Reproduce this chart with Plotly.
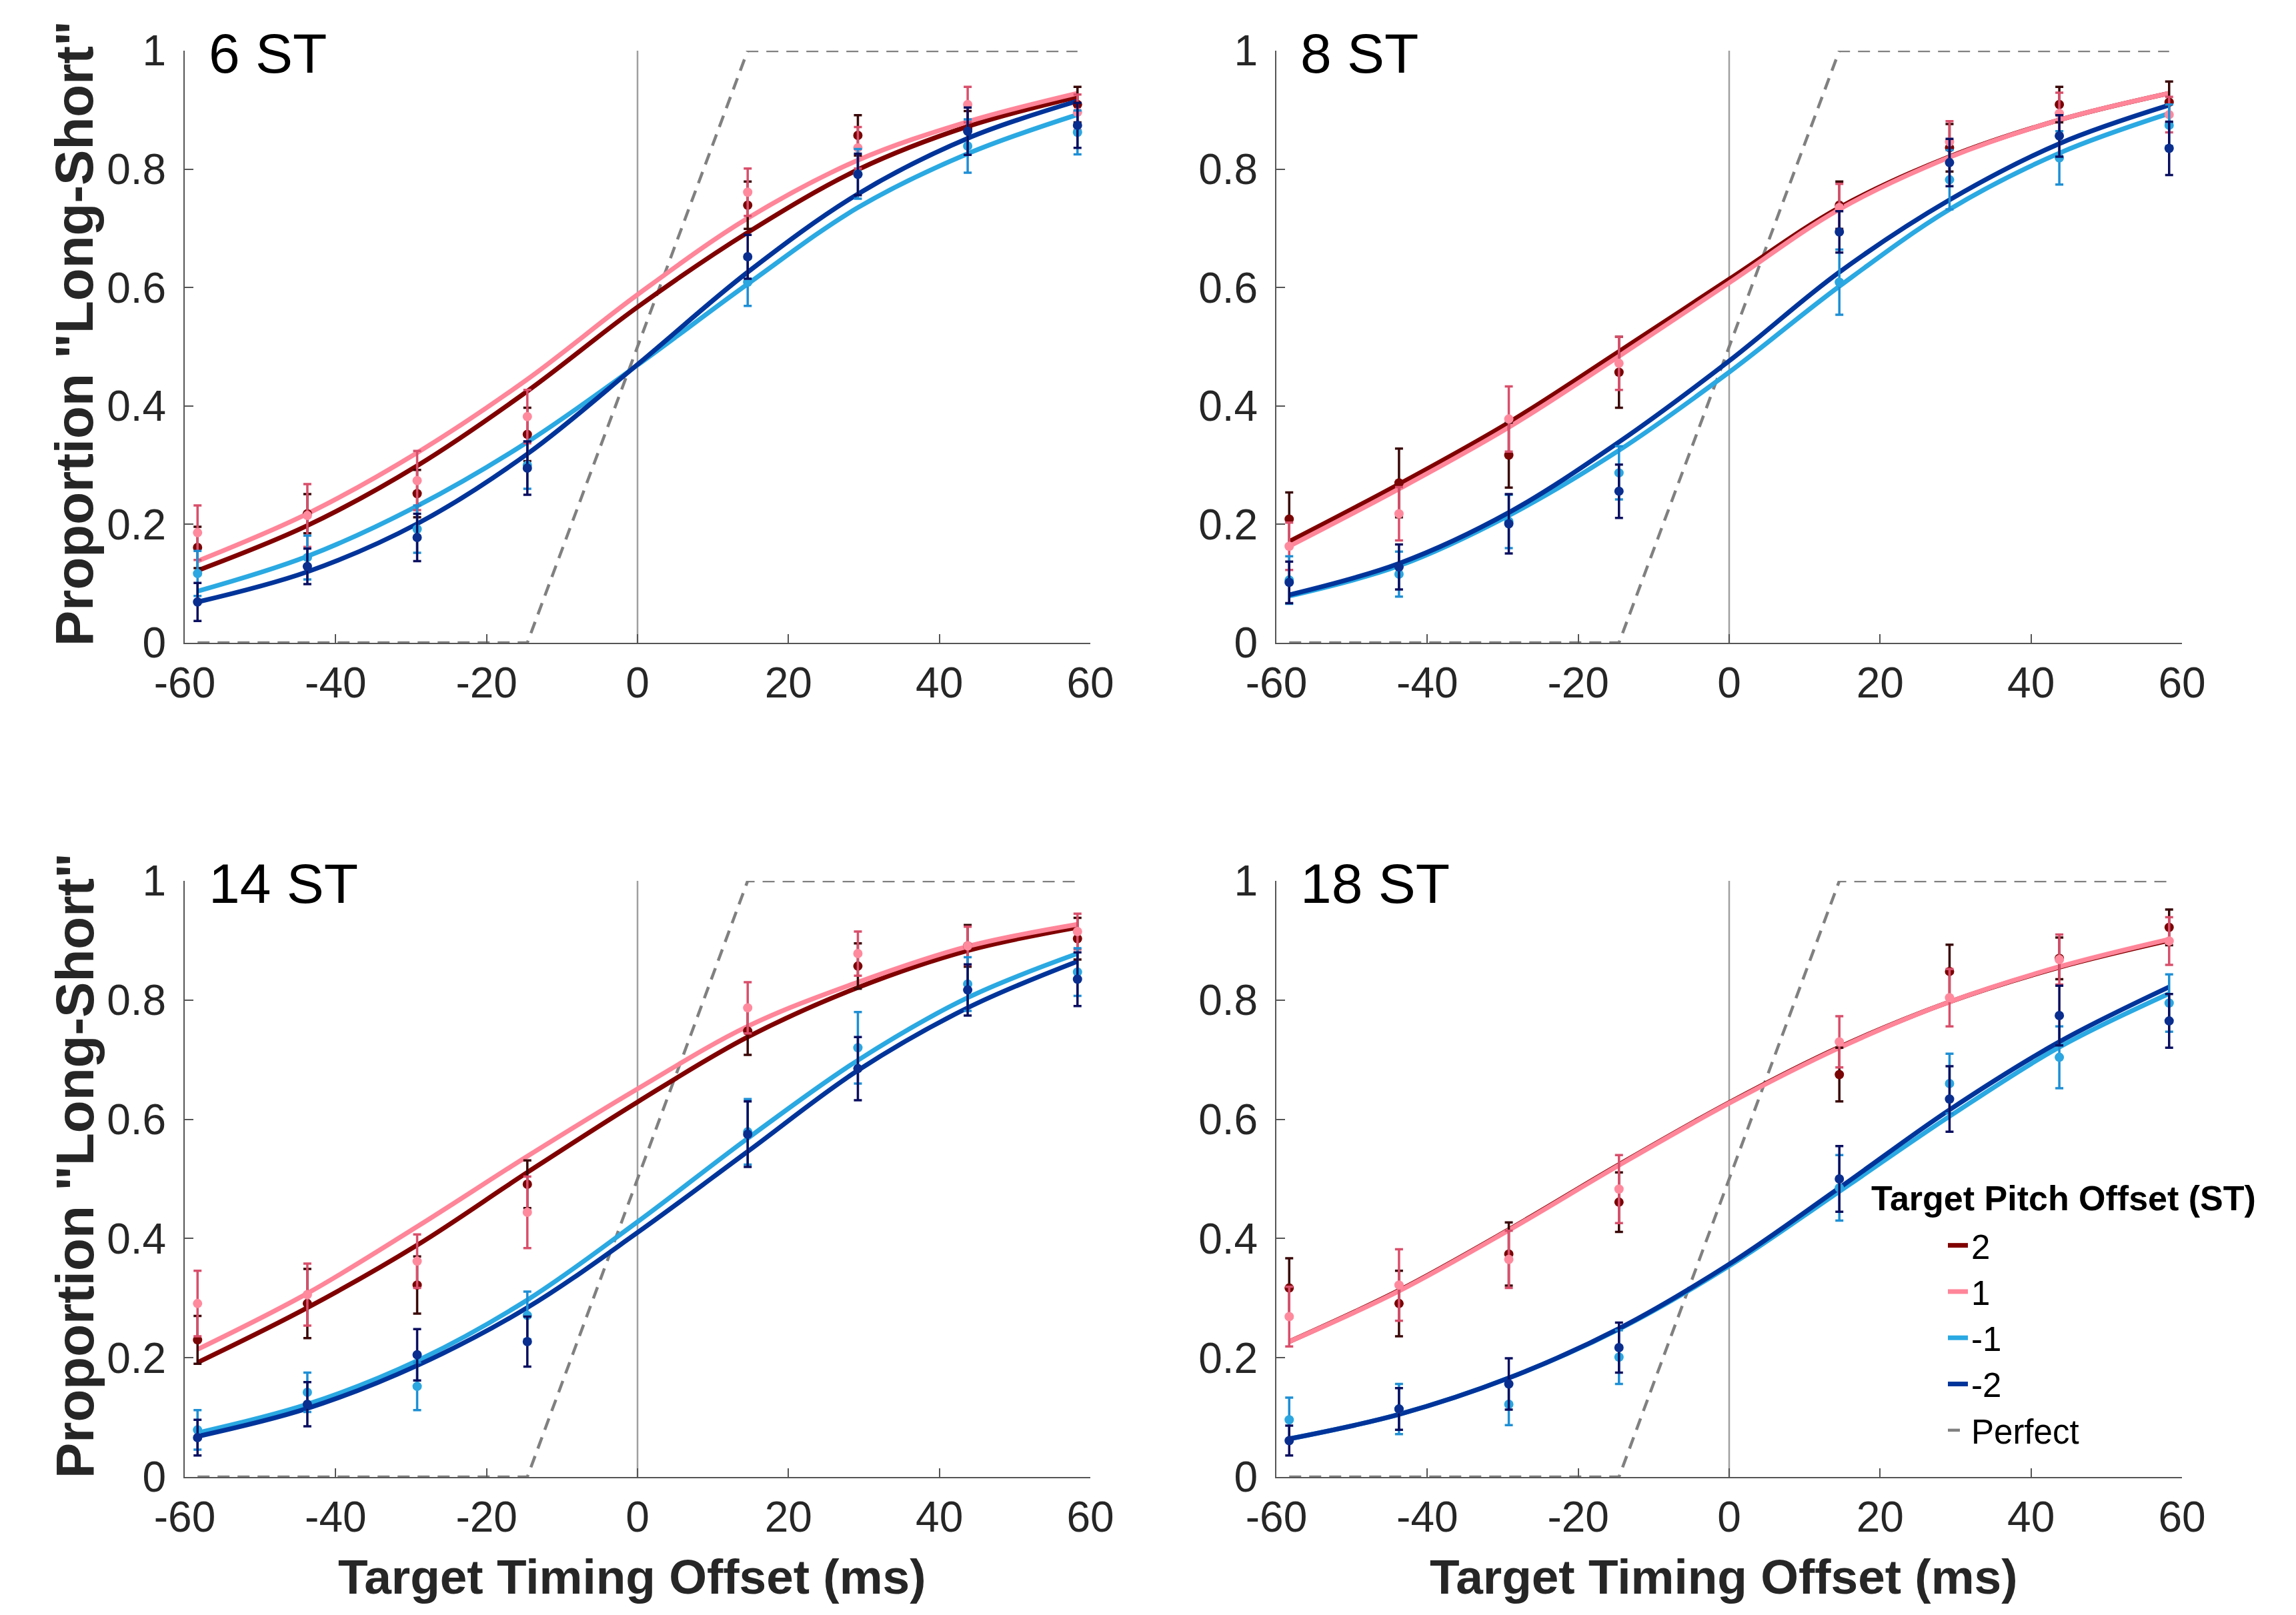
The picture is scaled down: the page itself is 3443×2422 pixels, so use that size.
import plotly.graph_objects as go

# ---------------- data ----------------
PANELS = ["6 ST", "8 ST", "14 ST", "18 ST"]
PITCH = ["2", "1", "-1", "-2"]
TIMING = [-58.3, -43.75, -29.2, -14.6, 14.6, 29.2, 43.75, 58.3]
CURVE_X = [-58.3, -43.75, -29.2, -14.6, 0, 14.6, 29.2, 43.75, 58.3]
PERFECT_X = [-58.3, -14.6, 14.6, 58.3]
PERFECT_Y = [0, 0, 1, 1]
ZERO_X = [0, 0]
ZERO_Y = [0, 1]

X_TICKS = [-60, -40, -20, 0, 20, 40, 60]
X_TICK_TEXT = ["-60", "-40", "-20", "0", "20", "40", "60"]
Y_TICKS = [0, 0.2, 0.4, 0.6, 0.8, 1]
Y_TICK_TEXT = ["0", "0.2", "0.4", "0.6", "0.8", "1"]

# fitted curves (values read at CURVE_X)
curve_6_p2 = [0.122, 0.198, 0.299, 0.425, 0.567, 0.693, 0.799, 0.872, 0.922]
curve_6_p1 = [0.138, 0.218, 0.321, 0.445, 0.588, 0.717, 0.815, 0.880, 0.928]
curve_6_m1 = [0.087, 0.146, 0.231, 0.339, 0.469, 0.606, 0.735, 0.826, 0.892]
curve_6_m2 = [0.069, 0.120, 0.201, 0.319, 0.470, 0.626, 0.758, 0.852, 0.915]

curve_8_p2 = [0.171, 0.268, 0.372, 0.492, 0.614, 0.735, 0.821, 0.883, 0.928]
curve_8_p1 = [0.163, 0.260, 0.364, 0.484, 0.608, 0.732, 0.820, 0.883, 0.928]
curve_8_m1 = [0.079, 0.130, 0.215, 0.325, 0.457, 0.602, 0.732, 0.827, 0.894]
curve_8_m2 = [0.081, 0.134, 0.220, 0.339, 0.476, 0.626, 0.748, 0.843, 0.908]

curve_14_p2 = [0.192, 0.284, 0.389, 0.511, 0.629, 0.738, 0.821, 0.883, 0.922]
curve_14_p1 = [0.214, 0.308, 0.420, 0.538, 0.651, 0.756, 0.830, 0.890, 0.927]
curve_14_m1 = [0.074, 0.122, 0.195, 0.297, 0.428, 0.568, 0.699, 0.804, 0.878]
curve_14_m2 = [0.068, 0.115, 0.187, 0.284, 0.410, 0.546, 0.682, 0.787, 0.865]

curve_18_p2 = [0.227, 0.313, 0.415, 0.524, 0.628, 0.721, 0.797, 0.855, 0.900]
curve_18_p1 = [0.227, 0.312, 0.414, 0.523, 0.627, 0.720, 0.797, 0.856, 0.902]
curve_18_m1 = [0.064, 0.105, 0.166, 0.248, 0.354, 0.479, 0.605, 0.721, 0.811]
curve_18_m2 = [0.064, 0.105, 0.166, 0.249, 0.357, 0.485, 0.616, 0.730, 0.822]

# observed proportions (at TIMING) and error bar half-widths
obs_6_p2 = [0.161, 0.218, 0.252, 0.352, 0.739, 0.857, 0.868, 0.909]
err_6_p2 = [0.035, 0.033, 0.040, 0.045, 0.040, 0.034, 0.030, 0.030]
obs_6_p1 = [0.186, 0.215, 0.274, 0.382, 0.761, 0.836, 0.909, 0.896]
err_6_p1 = [0.046, 0.053, 0.050, 0.045, 0.040, 0.035, 0.030, 0.030]
obs_6_m1 = [0.117, 0.144, 0.192, 0.300, 0.609, 0.792, 0.839, 0.862]
err_6_m1 = [0.038, 0.037, 0.040, 0.040, 0.040, 0.042, 0.045, 0.037]
obs_6_m2 = [0.069, 0.129, 0.178, 0.295, 0.652, 0.791, 0.864, 0.874]
err_6_m2 = [0.032, 0.030, 0.040, 0.045, 0.037, 0.035, 0.040, 0.038]

obs_8_p2 = [0.209, 0.270, 0.317, 0.457, 0.739, 0.836, 0.909, 0.913]
err_8_p2 = [0.045, 0.058, 0.055, 0.060, 0.040, 0.040, 0.030, 0.035]
obs_8_p1 = [0.163, 0.218, 0.378, 0.472, 0.735, 0.846, 0.894, 0.892]
err_8_p1 = [0.040, 0.045, 0.055, 0.045, 0.040, 0.035, 0.035, 0.030]
obs_8_m1 = [0.106, 0.116, 0.205, 0.287, 0.609, 0.782, 0.819, 0.874]
err_8_m1 = [0.040, 0.038, 0.045, 0.045, 0.055, 0.050, 0.045, 0.035]
obs_8_m2 = [0.102, 0.128, 0.201, 0.256, 0.694, 0.811, 0.856, 0.835]
err_8_m2 = [0.035, 0.038, 0.050, 0.045, 0.035, 0.040, 0.035, 0.045]

obs_14_p2 = [0.230, 0.291, 0.322, 0.491, 0.748, 0.857, 0.891, 0.903]
err_14_p2 = [0.040, 0.058, 0.048, 0.040, 0.040, 0.038, 0.035, 0.035]
obs_14_p1 = [0.291, 0.306, 0.362, 0.444, 0.787, 0.878, 0.891, 0.915]
err_14_p1 = [0.055, 0.052, 0.045, 0.060, 0.043, 0.037, 0.032, 0.030]
obs_14_m1 = [0.079, 0.142, 0.152, 0.271, 0.579, 0.720, 0.827, 0.847]
err_14_m1 = [0.033, 0.033, 0.040, 0.040, 0.055, 0.060, 0.045, 0.040]
obs_14_m2 = [0.066, 0.122, 0.205, 0.227, 0.575, 0.685, 0.817, 0.835]
err_14_m2 = [0.030, 0.037, 0.043, 0.042, 0.055, 0.053, 0.043, 0.045]

obs_18_p2 = [0.317, 0.291, 0.374, 0.461, 0.675, 0.848, 0.870, 0.922]
err_18_p2 = [0.050, 0.055, 0.053, 0.050, 0.045, 0.045, 0.035, 0.030]
obs_18_p1 = [0.269, 0.322, 0.365, 0.483, 0.730, 0.804, 0.868, 0.899]
err_18_p1 = [0.050, 0.060, 0.048, 0.057, 0.043, 0.048, 0.042, 0.040]
obs_18_m1 = [0.096, 0.114, 0.122, 0.201, 0.485, 0.660, 0.704, 0.795]
err_18_m1 = [0.037, 0.042, 0.035, 0.045, 0.055, 0.050, 0.052, 0.048]
obs_18_m2 = [0.061, 0.114, 0.156, 0.217, 0.500, 0.634, 0.774, 0.765]
err_18_m2 = [0.025, 0.035, 0.043, 0.042, 0.055, 0.055, 0.050, 0.045]

CURVES = {
    "6 ST": [curve_6_p2, curve_6_p1, curve_6_m1, curve_6_m2],
    "8 ST": [curve_8_p2, curve_8_p1, curve_8_m1, curve_8_m2],
    "14 ST": [curve_14_p2, curve_14_p1, curve_14_m1, curve_14_m2],
    "18 ST": [curve_18_p2, curve_18_p1, curve_18_m1, curve_18_m2],
}
OBS = {
    "6 ST": [obs_6_p2, obs_6_p1, obs_6_m1, obs_6_m2],
    "8 ST": [obs_8_p2, obs_8_p1, obs_8_m1, obs_8_m2],
    "14 ST": [obs_14_p2, obs_14_p1, obs_14_m1, obs_14_m2],
    "18 ST": [obs_18_p2, obs_18_p1, obs_18_m1, obs_18_m2],
}
ERR = {
    "6 ST": [err_6_p2, err_6_p1, err_6_m1, err_6_m2],
    "8 ST": [err_8_p2, err_8_p1, err_8_m1, err_8_m2],
    "14 ST": [err_14_p2, err_14_p1, err_14_m1, err_14_m2],
    "18 ST": [err_18_p2, err_18_p1, err_18_m1, err_18_m2],
}

# ---------------- styles ----------------
W, H = 3443, 2422
LINE_COLORS = ["#800000", "#FF8599", "#2AA9E2", "#00349A"]
MARKER_COLORS = ["#7A0505", "#FF8A9E", "#2BA6E0", "#0A2E8F"]
ERR_COLORS = ["#3A0808", "#D94F6B", "#1E8FD5", "#0A0F60"]
AXIS_COLOR = "#555555"
TEXT_COLOR = "#262626"
SANS = "Liberation Sans, Arial, sans-serif"

# pixel geometry of each panel (left, right, top, bottom)
PX = {
    "6 ST": (269, 1627, 68, 956),
    "8 ST": (1906, 3264, 68, 956),
    "14 ST": (269, 1627, 1313, 2207),
    "18 ST": (1906, 3264, 1313, 2207),
}

fig = go.Figure()
layout_axes = {}
annotations = []

for i, panel in enumerate(PANELS):
    n = "" if i == 0 else str(i + 1)
    xa, ya = "x" + n, "y" + n
    l, r, t, b = PX[panel]
    layout_axes["xaxis" + n] = dict(
        domain=[l / W, r / W], range=[-60, 60], anchor=ya, automargin=False,
        tickvals=X_TICKS, ticktext=X_TICK_TEXT,
        ticks="inside", ticklen=13, tickwidth=2, tickcolor=AXIS_COLOR,
        showline=True, linecolor=AXIS_COLOR, linewidth=2,
        showgrid=False, zeroline=False,
        tickfont=dict(family=SANS, size=64, color=TEXT_COLOR),
        ticklabelstandoff=3,
    )
    layout_axes["yaxis" + n] = dict(
        domain=[1 - b / H, 1 - t / H], range=[0, 1], anchor=xa, automargin=False,
        tickvals=Y_TICKS, ticktext=Y_TICK_TEXT,
        ticks="inside", ticklen=13, tickwidth=2, tickcolor=AXIS_COLOR,
        showline=True, linecolor=AXIS_COLOR, linewidth=2,
        showgrid=False, zeroline=False,
        tickfont=dict(family=SANS, size=64, color=TEXT_COLOR),
        ticklabelstandoff=13,
    )

    # vertical reference line at 0
    fig.add_trace(go.Scatter(x=ZERO_X, y=ZERO_Y, mode="lines", xaxis=xa, yaxis=ya,
                             line=dict(color="#A0A0A0", width=2.5), showlegend=False,
                             hoverinfo="skip"))
    # perfect performance
    fig.add_trace(go.Scatter(x=PERFECT_X, y=PERFECT_Y, mode="lines", xaxis=xa, yaxis=ya,
                             name="Perfect", legendgroup="perfect",
                             showlegend=(panel == "18 ST"),
                             line=dict(color="#808080", width=4.5, dash="18px,12px")))
    # fitted curves
    for k, lab in enumerate(PITCH):
        fig.add_trace(go.Scatter(
            x=CURVE_X, y=CURVES[panel][k], mode="lines", xaxis=xa, yaxis=ya,
            name=lab, legendgroup=lab, showlegend=(panel == "18 ST"),
            line=dict(color=LINE_COLORS[k], width=7, shape="spline", smoothing=1.0),
        ))
    # observations with error bars
    for k, lab in enumerate(PITCH):
        fig.add_trace(go.Scatter(
            x=TIMING, y=OBS[panel][k], mode="markers", xaxis=xa, yaxis=ya,
            legendgroup=lab, showlegend=False,
            marker=dict(color=MARKER_COLORS[k], size=14, line=dict(width=0)),
            error_y=dict(type="data", array=ERR[panel][k], visible=True,
                         color=ERR_COLORS[k], thickness=3.5, width=6),
        ))

    # panel label
    annotations.append(dict(
        text=panel, xref=xa + " domain", yref=ya + " domain",
        x=34 / (r - l), y=0.996, xanchor="left", yanchor="middle",
        showarrow=False, font=dict(family=SANS, size=84, color="black"),
    ))
    # y title (left column)
    if panel in ("6 ST", "14 ST"):
        annotations.append(dict(
            text='Proportion "Long-Short"', xref="paper", yref="paper",
            x=104 / W, y=1 - ((t + b) / 2 - 20) / H, xanchor="center", yanchor="middle",
            textangle=-90, showarrow=False,
            font=dict(family=SANS, size=80, color=TEXT_COLOR, weight="bold"),
        ))
    # x title (bottom row)
    if panel in ("14 ST", "18 ST"):
        annotations.append(dict(
            text="Target Timing Offset (ms)", xref="paper", yref="paper",
            x=((l + r) / 2 - 8) / W, y=1 - 2356 / H, xanchor="center", yanchor="middle",
            showarrow=False,
            font=dict(family=SANS, size=73, color=TEXT_COLOR, weight="bold"),
        ))

# legend title
annotations.append(dict(
    text="Target Pitch Offset (ST)", xref="paper", yref="paper",
    x=2796 / W, y=1 - 1789 / H, xanchor="left", yanchor="middle", showarrow=False,
    font=dict(family=SANS, size=52, color="black", weight="bold"),
))

fig.update_layout(
    width=W, height=H, margin=dict(l=0, r=0, t=0, b=0, autoexpand=False),
    paper_bgcolor="white", plot_bgcolor="white",
    annotations=annotations,
    legend=dict(
        x=2908 / W, y=1 - 1820 / H, xanchor="left", yanchor="top",
        bgcolor="rgba(255,255,255,0)", borderwidth=0,
        font=dict(family=SANS, size=51, color="black"),
        traceorder="normal", itemwidth=30, tracegroupgap=0,
    ),
    **layout_axes,
)

# order legend entries: 2, 1, -1, -2, Perfect
for tr in fig.data:
    if tr.showlegend:
        tr.legendrank = {"2": 1, "1": 2, "-1": 3, "-2": 4, "Perfect": 5}[tr.name]

fig.write_html("out.html")
